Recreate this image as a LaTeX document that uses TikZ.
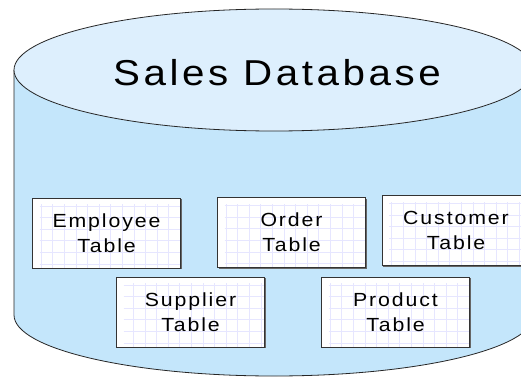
\documentclass[tikz,border=0pt]{standalone}
\usepackage{fontspec}
\usepackage{tikz}
\usepackage{xcolor}
\usetikzlibrary{shadows}
\newfontfamily\dbfont{Liberation Sans}[FakeStretch=1.12, LetterSpace=10]
\definecolor{dbtop}{HTML}{DDEFFD}
\definecolor{dbbody}{HTML}{C4E6FB}
\definecolor{gridline}{HTML}{E6E6FF}

\tikzset{
    tablebox/.style={draw=black!80, fill=white, minimum width=148pt, minimum height=70pt,
        align=center, font=\dbfont\fontsize{19}{25}\selectfont, inner sep=0pt,
        drop shadow={shadow xshift=1pt, shadow yshift=-1pt, fill=black!60, opacity=1},
        path picture={\draw[gridline, step=11.6pt] ([xshift=7pt,yshift=-6pt]path picture bounding box.north west) grid (path picture bounding box.south east);}}
}

\begin{document}
\begin{tikzpicture}[x=1pt, y=-1pt]
\clip (0,0) rectangle (521,377);
\fill[white] (0,0) rectangle (521,377);
\fill[dbbody] (14,70) -- (14,315) arc[start angle=180, end angle=0, x radius=260, y radius=61] -- (534,70) -- cycle;
\draw[black!85, line width=0.8pt] (14,70) -- (14,315) arc[start angle=180, end angle=0, x radius=260, y radius=61];
\draw[black!85, line width=0.8pt, fill=dbtop] (274,70) ellipse [x radius=260, y radius=61];
\node (title) at (277,73) {\dbfont\fontsize{36}{40}\selectfont Sales Database};
\node[tablebox] (employee) at (106.5,233) {Employee\\Table};
\node[tablebox] (order) at (291.5,232.5) {Order\\Table};
\node[tablebox] (customer) at (456,230.5) {Customer\\Table};
\node[tablebox] (supplier) at (190.5,312) {Supplier\\Table};
\node[tablebox] (product) at (395.5,312) {Product\\Table};
\end{tikzpicture}
\end{document}
